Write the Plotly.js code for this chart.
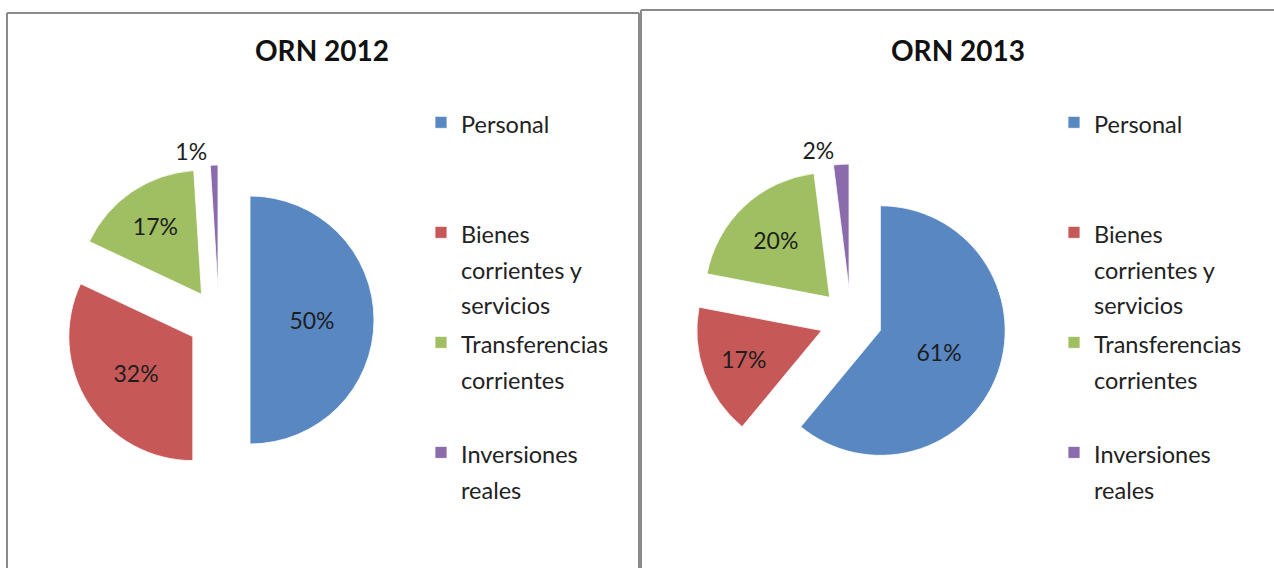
<!DOCTYPE html>
<html>
<head>
<meta charset="utf-8">
<script src="https://cdn.plot.ly/plotly-3.0.1.min.js"></script>
<style>
  html, body { margin: 0; padding: 0; background: #fff; }
  #chart { width: 1274px; height: 568px; }
</style>
</head>
<body>
<div id="chart"></div>
<script>
// ---- data ----
var categories = ['Personal', 'Bienes corrientes y servicios', 'Transferencias corrientes', 'Inversiones reales'];
var values2012 = [50, 32, 17, 1];
var values2013 = [61, 17, 20, 2];
var titles = ['ORN 2012', 'ORN 2013'];

// ---- presentation ----
var colors = ['#5887C2', '#C65957', '#A0BF62', '#8B6BAC'];
var W = 1274, H = 568;
function px(x) { return x / W; }
function py(y) { return 1 - y / H; }

// legend text wrapping (line breaks + blank padding lines for even spacing)
var wrap = {
  'Personal': [['Personal'], 2],
  'Bienes corrientes y servicios': [['Bienes', 'corrientes y', 'servicios'], 0],
  'Transferencias corrientes': [['Transferencias', 'corrientes'], 1],
  'Inversiones reales': [['Inversiones', 'reales'], 0]
};
// suffix keeps each pie's legend entries distinct (pie legends de-duplicate by label)
function legendLabel(c, suffix) {
  var w = wrap[c];
  var lines = w[0].map(function (t) { return '<span style="font-size:23.5px">' + t + '</span>'; });
  for (var i = 0; i < w[1]; i++) lines.push('\u00a0');
  return lines.join('<br>') + suffix;
}

function pieTrace(values, cx, cy, size, legendId, suffix) {
  var half = size / 2;
  return {
    type: 'pie',
    values: values,
    labels: categories.map(function (c) { return legendLabel(c, suffix); }),
    sort: false,
    direction: 'clockwise',
    rotation: 0,
    pull: 0.25,
    textinfo: 'percent',
    textposition: ['inside', 'inside', 'inside', 'outside'],
    insidetextorientation: 'horizontal',
    textfont: { family: 'Lato, sans-serif', size: 23, color: '#1e1e1e' },
    marker: { colors: colors, line: { color: 'rgba(255,255,255,0.8)', width: 1 } },
    domain: { x: [px(cx - half), px(cx + half)], y: [py(cy + half), py(cy - half)] },
    legend: legendId,
    hoverinfo: 'percent+value'
  };
}

var data = [
  pieTrace(values2012, 219, 320, 310, 'legend', ''),
  pieTrace(values2013, 851, 320, 312, 'legend2', '\u200b')
];

var lineStyle = { color: '#8a8a8a', width: 2 };
function seg(x0, y0, x1, y1) {
  return { type: 'line', xref: 'paper', yref: 'paper', x0: px(x0), y0: py(y0), x1: px(x1), y1: py(y1), line: lineStyle };
}

var legendFont = { family: 'Lato, sans-serif', size: 27.44, color: '#222' };
var layout = {
  width: W, height: H,
  margin: { l: 0, r: 0, t: 0, b: 0 },
  paper_bgcolor: '#fff',
  showlegend: true,
  legend: { x: px(421), y: py(98), xanchor: 'left', yanchor: 'top', font: legendFont, valign: 'top', bgcolor: 'rgba(0,0,0,0)', traceorder: 'normal' },
  legend2: { x: px(1054), y: py(98), xanchor: 'left', yanchor: 'top', font: legendFont, valign: 'top', bgcolor: 'rgba(0,0,0,0)', traceorder: 'normal' },
  annotations: [
    { text: '<b>' + titles[0] + '</b>', xref: 'paper', yref: 'paper', x: px(322), y: py(50), showarrow: false, xanchor: 'center', yanchor: 'middle', font: { family: 'Lato, sans-serif', size: 28, color: '#111' } },
    { text: '<b>' + titles[1] + '</b>', xref: 'paper', yref: 'paper', x: px(958), y: py(50), showarrow: false, xanchor: 'center', yanchor: 'middle', font: { family: 'Lato, sans-serif', size: 28, color: '#111' } }
  ],
  shapes: [
    seg(7, 13, 639, 13), seg(7, 13, 7, 570), seg(639, 13, 639, 570),
    seg(641, 10, 1280, 10), seg(641, 10, 641, 570)
  ]
};

Plotly.newPlot('chart', data, layout, { displayModeBar: false, staticPlot: true });
</script>
</body>
</html>
